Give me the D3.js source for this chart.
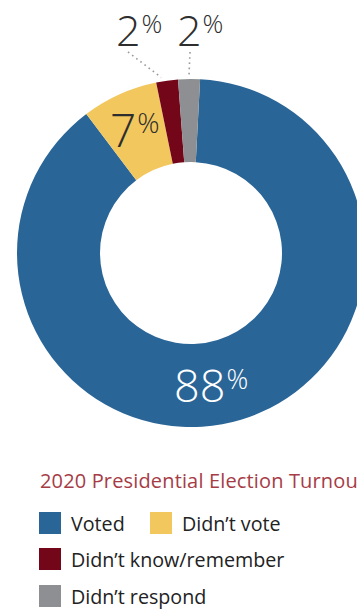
<!DOCTYPE html>
<html>
<head>
<meta charset="utf-8">
<script src="https://cdn.jsdelivr.net/npm/d3@7"></script>
<style>
  html, body { margin: 0; padding: 0; background: #fff; overflow: hidden; }
  svg { display: block; font-family: "Open Sans", sans-serif; }
</style>
</head>
<body>
<svg id="chart" width="357" height="610"></svg>
<script>
// Survey responses: 2020 presidential election turnout
const categories = ["Voted", "Didn't vote", "Didn't know/remember", "Didn't respond"];
const values = [88, 7, 2, 2];
const colors = ["#2a6597", "#f2c75e", "#74061a", "#8d8f92"];
const legendTitle = "2020 Presidential Election Turnout";

const svg = d3.select("#chart");
const cx = 191, cy = 253;
const outerR = 174, innerR = 91;

const pie = d3.pie().sort(null).value(d => d)
  .startAngle(3 * Math.PI / 180)
  .endAngle(3 * Math.PI / 180 + 2 * Math.PI);
const arcs = pie(values);
const arc = d3.arc().innerRadius(innerR).outerRadius(outerR);

const g = svg.append("g").attr("transform", `translate(${cx},${cy})`);
g.selectAll("path.slice")
  .data(arcs)
  .join("path")
  .attr("class", "slice")
  .attr("d", arc)
  .attr("fill", (d, i) => colors[i]);

// Percentage label: big light number with a small raised percent sign
function pctLabel(sel, x, y, v, size, color) {
  const t = sel.append("text")
    .attr("x", x).attr("y", y)
    .attr("fill", color)
    .attr("font-weight", 300);
  t.append("tspan").attr("font-size", size).text(v);
  t.append("tspan").attr("font-size", size * 0.6).attr("dy", -size * 0.3).attr("dx", 1).text("%");
  return t;
}

const mid = a => (a.startAngle + a.endAngle) / 2;
const polar = (r, ang) => [Math.sin(ang) * r, -Math.cos(ang) * r];

// Voted: inside the ring, near the bottom
pctLabel(g, -17, 149, values[0], 45, "#ffffff");
// Didn't vote: inside the yellow slice
pctLabel(g, -81, -106, values[1], 46, "#2e2e2e");

// Small slices: labels above the ring with dotted leaders
const leaders = [
  { i: 2, lx: -63, ly: -201, tx: -75, ty: -207, shift: -0.03 },
  { i: 3, lx: -1, ly: -201, tx: -14, ty: -207, shift: 0 }
];
leaders.forEach(l => {
  const [ex, ey] = polar(outerR + 4, mid(arcs[l.i]) + l.shift);
  g.append("line")
    .attr("x1", l.lx).attr("y1", l.ly)
    .attr("x2", ex).attr("y2", ey)
    .attr("stroke", "#9a9a9a")
    .attr("stroke-width", 1.6)
    .attr("stroke-dasharray", "1.6,3.6");
  pctLabel(g, l.tx, l.ty, values[l.i], 43, "#2e2e2e");
});

// Legend
const legend = svg.append("g");
legend.append("text")
  .attr("x", 40).attr("y", 488)
  .attr("font-size", 20)
  .attr("letter-spacing", 0.15)
  .attr("fill", "#a63c46")
  .text(legendTitle);

const items = [
  { i: 0, x: 39, y: 512 },
  { i: 1, x: 150, y: 512 },
  { i: 2, x: 39, y: 548 },
  { i: 3, x: 39, y: 585 }
];
items.forEach(it => {
  legend.append("rect")
    .attr("x", it.x).attr("y", it.y)
    .attr("width", 22).attr("height", 22)
    .attr("fill", colors[it.i]);
  legend.append("text")
    .attr("x", it.x + 32).attr("y", it.y + 19)
    .attr("font-size", 19.7)
    .attr("fill", "#222")
    .text(categories[it.i].replace("'", "\u2019"));
});
</script>
</body>
</html>
